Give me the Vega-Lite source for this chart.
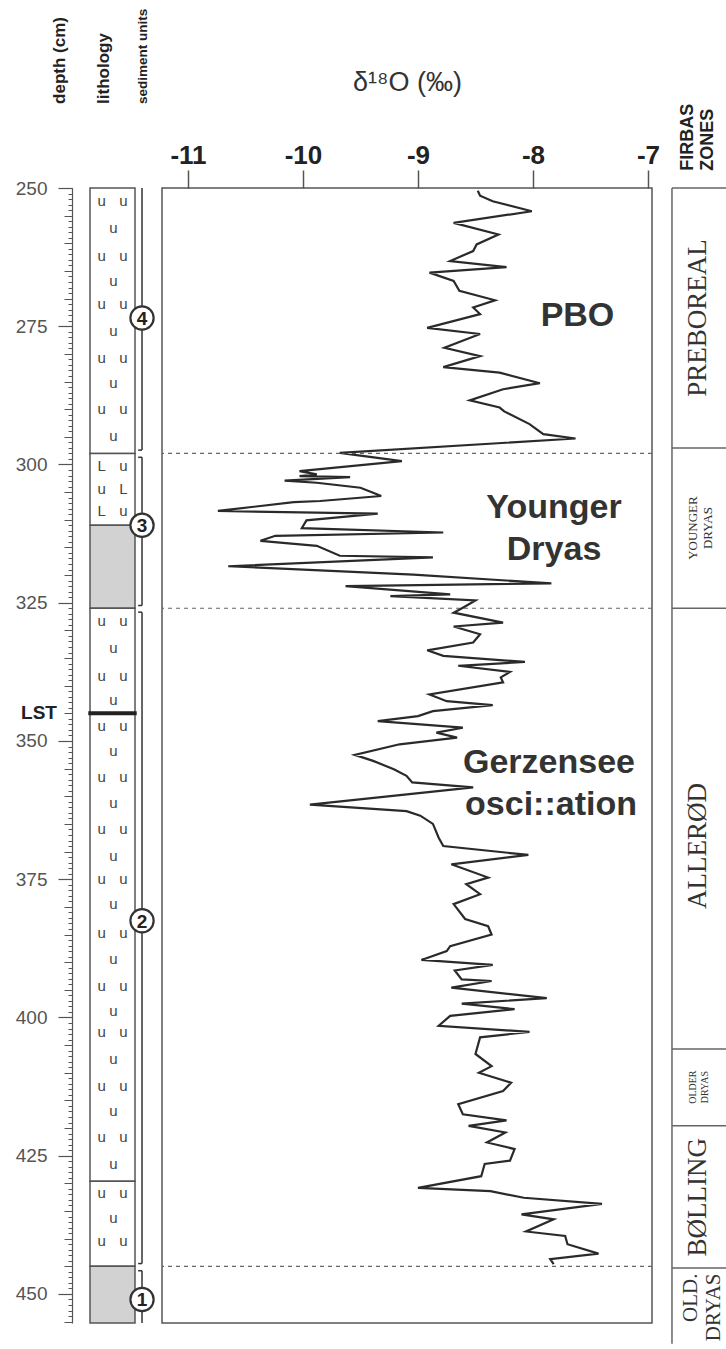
{
  "$schema": "https://vega.github.io/schema/vega-lite/v6.json",
  "padding": {"left": 15, "top": 8, "right": 0, "bottom": 0},
  "autosize": {"type": "pad"},
  "background": "white",
  "config": {"view": {"stroke": null}, "font": "Liberation Sans", "axis": {"grid": false}},
  "datasets": {
    "d18o": [
      {"depth": 250.5, "d18O": -8.48}, {"depth": 251.4, "d18O": -8.46}, {"depth": 252.4, "d18O": -8.35}, {"depth": 254.2, "d18O": -8.01},
      {"depth": 256.3, "d18O": -8.69}, {"depth": 258.4, "d18O": -8.30}, {"depth": 260.2, "d18O": -8.49}, {"depth": 261.4, "d18O": -8.52},
      {"depth": 263.2, "d18O": -8.72}, {"depth": 264.3, "d18O": -8.23}, {"depth": 265.3, "d18O": -8.90}, {"depth": 266.8, "d18O": -8.69},
      {"depth": 268.6, "d18O": -8.64}, {"depth": 270.3, "d18O": -8.33}, {"depth": 271.6, "d18O": -8.52}, {"depth": 272.8, "d18O": -8.46},
      {"depth": 275.3, "d18O": -8.92}, {"depth": 276.4, "d18O": -8.46}, {"depth": 278.9, "d18O": -8.77}, {"depth": 280.4, "d18O": -8.46},
      {"depth": 282.4, "d18O": -8.78}, {"depth": 283.4, "d18O": -8.29}, {"depth": 285.3, "d18O": -7.94}, {"depth": 286.4, "d18O": -8.26},
      {"depth": 288.4, "d18O": -8.55}, {"depth": 289.7, "d18O": -8.29}, {"depth": 290.4, "d18O": -8.25}, {"depth": 292.7, "d18O": -8.03},
      {"depth": 294.5, "d18O": -7.91}, {"depth": 295.3, "d18O": -7.63}, {"depth": 297.9, "d18O": -9.68}, {"depth": 299.4, "d18O": -9.14},
      {"depth": 301.2, "d18O": -10.03}, {"depth": 301.8, "d18O": -9.88}, {"depth": 302.1, "d18O": -10.03}, {"depth": 302.3, "d18O": -9.59},
      {"depth": 302.9, "d18O": -10.16}, {"depth": 303.3, "d18O": -9.88}, {"depth": 304.2, "d18O": -9.50}, {"depth": 305.1, "d18O": -9.39},
      {"depth": 305.7, "d18O": -9.32}, {"depth": 306.6, "d18O": -9.85}, {"depth": 306.8, "d18O": -10.08}, {"depth": 308.4, "d18O": -10.74},
      {"depth": 308.9, "d18O": -9.35}, {"depth": 310.1, "d18O": -9.97}, {"depth": 311.5, "d18O": -10.01}, {"depth": 312.3, "d18O": -8.78},
      {"depth": 312.9, "d18O": -10.24}, {"depth": 313.8, "d18O": -10.37}, {"depth": 314.7, "d18O": -9.88}, {"depth": 316.5, "d18O": -9.68},
      {"depth": 316.8, "d18O": -8.87}, {"depth": 318.4, "d18O": -10.65}, {"depth": 319.9, "d18O": -9.04}, {"depth": 321.5, "d18O": -7.84},
      {"depth": 322.0, "d18O": -9.63}, {"depth": 323.5, "d18O": -8.72}, {"depth": 323.8, "d18O": -9.24}, {"depth": 324.6, "d18O": -8.50},
      {"depth": 325.9, "d18O": -8.61}, {"depth": 326.8, "d18O": -8.69}, {"depth": 328.6, "d18O": -8.26}, {"depth": 329.3, "d18O": -8.69},
      {"depth": 330.7, "d18O": -8.46}, {"depth": 332.2, "d18O": -8.52}, {"depth": 333.6, "d18O": -8.92}, {"depth": 334.6, "d18O": -8.78},
      {"depth": 335.7, "d18O": -8.07}, {"depth": 336.4, "d18O": -8.65}, {"depth": 337.5, "d18O": -8.20}, {"depth": 338.5, "d18O": -8.28},
      {"depth": 339.4, "d18O": -8.26}, {"depth": 341.6, "d18O": -8.90}, {"depth": 342.8, "d18O": -8.75}, {"depth": 343.5, "d18O": -8.35},
      {"depth": 344.6, "d18O": -8.87}, {"depth": 345.5, "d18O": -9.00}, {"depth": 346.4, "d18O": -9.35}, {"depth": 347.6, "d18O": -8.61},
      {"depth": 348.5, "d18O": -8.84}, {"depth": 349.4, "d18O": -8.66}, {"depth": 350.6, "d18O": -9.16}, {"depth": 352.5, "d18O": -9.55},
      {"depth": 353.6, "d18O": -9.39}, {"depth": 355.1, "d18O": -9.21}, {"depth": 356.3, "d18O": -9.10}, {"depth": 357.5, "d18O": -9.05},
      {"depth": 358.4, "d18O": -8.52}, {"depth": 361.5, "d18O": -9.94}, {"depth": 362.7, "d18O": -9.10}, {"depth": 363.5, "d18O": -8.98},
      {"depth": 365.0, "d18O": -8.87}, {"depth": 367.5, "d18O": -8.82}, {"depth": 369.0, "d18O": -8.78}, {"depth": 370.6, "d18O": -8.04},
      {"depth": 372.3, "d18O": -8.71}, {"depth": 374.7, "d18O": -8.39}, {"depth": 375.9, "d18O": -8.58}, {"depth": 377.7, "d18O": -8.46},
      {"depth": 379.5, "d18O": -8.69}, {"depth": 382.2, "d18O": -8.59}, {"depth": 383.5, "d18O": -8.39}, {"depth": 385.0, "d18O": -8.36},
      {"depth": 387.1, "d18O": -8.72}, {"depth": 388.0, "d18O": -8.75}, {"depth": 389.6, "d18O": -8.97}, {"depth": 390.5, "d18O": -8.35},
      {"depth": 391.5, "d18O": -8.68}, {"depth": 393.1, "d18O": -8.62}, {"depth": 393.4, "d18O": -8.36}, {"depth": 394.6, "d18O": -8.71},
      {"depth": 396.5, "d18O": -7.88}, {"depth": 397.5, "d18O": -8.62}, {"depth": 398.5, "d18O": -8.16}, {"depth": 399.7, "d18O": -8.72},
      {"depth": 401.5, "d18O": -8.82}, {"depth": 402.6, "d18O": -8.03}, {"depth": 403.6, "d18O": -8.46}, {"depth": 406.6, "d18O": -8.50},
      {"depth": 408.8, "d18O": -8.36}, {"depth": 410.0, "d18O": -8.47}, {"depth": 411.8, "d18O": -8.19}, {"depth": 413.3, "d18O": -8.26},
      {"depth": 415.7, "d18O": -8.65}, {"depth": 417.5, "d18O": -8.61}, {"depth": 418.6, "d18O": -8.23}, {"depth": 419.6, "d18O": -8.56},
      {"depth": 420.8, "d18O": -8.24}, {"depth": 422.6, "d18O": -8.40}, {"depth": 423.8, "d18O": -8.16}, {"depth": 425.9, "d18O": -8.20},
      {"depth": 426.5, "d18O": -8.42}, {"depth": 428.7, "d18O": -8.45}, {"depth": 430.8, "d18O": -9.00}, {"depth": 431.4, "d18O": -8.37},
      {"depth": 432.6, "d18O": -8.08}, {"depth": 433.7, "d18O": -7.40}, {"depth": 435.6, "d18O": -8.10}, {"depth": 436.5, "d18O": -7.82},
      {"depth": 438.7, "d18O": -8.06}, {"depth": 439.5, "d18O": -7.72}, {"depth": 441.0, "d18O": -7.70}, {"depth": 442.7, "d18O": -7.43},
      {"depth": 443.7, "d18O": -7.85}, {"depth": 444.6, "d18O": -7.82}
    ],
    "lithology": [
      {"top": 250, "bottom": 298, "type": "patterned"},
      {"top": 298, "bottom": 311, "type": "patterned"},
      {"top": 311, "bottom": 326, "type": "shaded"},
      {"top": 326, "bottom": 429.6, "type": "patterned"},
      {"top": 429.6, "bottom": 445, "type": "patterned"},
      {"top": 445, "bottom": 455.25, "type": "shaded"}
    ],
    "symbols": [
      {"depth": 252.4, "symbol": "u", "slot": "left"}, {"depth": 252.4, "symbol": "u", "slot": "right"},
      {"depth": 257.2, "symbol": "u", "slot": "mid"},
      {"depth": 262.3, "symbol": "u", "slot": "left"}, {"depth": 262.3, "symbol": "u", "slot": "right"},
      {"depth": 266.8, "symbol": "u", "slot": "mid"},
      {"depth": 271.0, "symbol": "u", "slot": "left"}, {"depth": 271.0, "symbol": "u", "slot": "right"},
      {"depth": 275.9, "symbol": "u", "slot": "mid"},
      {"depth": 280.7, "symbol": "u", "slot": "left"}, {"depth": 280.7, "symbol": "u", "slot": "right"},
      {"depth": 285.2, "symbol": "u", "slot": "mid"},
      {"depth": 290.0, "symbol": "u", "slot": "left"}, {"depth": 290.0, "symbol": "u", "slot": "right"},
      {"depth": 294.8, "symbol": "u", "slot": "mid"},
      {"depth": 300.3, "symbol": "L", "slot": "left"}, {"depth": 300.3, "symbol": "u", "slot": "right"},
      {"depth": 304.4, "symbol": "u", "slot": "left"}, {"depth": 304.4, "symbol": "L", "slot": "right"},
      {"depth": 308.4, "symbol": "L", "slot": "left"}, {"depth": 308.4, "symbol": "u", "slot": "right"},
      {"depth": 328.3, "symbol": "u", "slot": "left"}, {"depth": 328.3, "symbol": "u", "slot": "right"},
      {"depth": 333.1, "symbol": "u", "slot": "mid"},
      {"depth": 338.2, "symbol": "u", "slot": "left"}, {"depth": 338.2, "symbol": "u", "slot": "right"},
      {"depth": 342.6, "symbol": "u", "slot": "mid"},
      {"depth": 347.2, "symbol": "u", "slot": "left"}, {"depth": 347.2, "symbol": "u", "slot": "right"},
      {"depth": 351.8, "symbol": "u", "slot": "mid"},
      {"depth": 356.6, "symbol": "u", "slot": "left"}, {"depth": 356.6, "symbol": "u", "slot": "right"},
      {"depth": 361.2, "symbol": "u", "slot": "mid"},
      {"depth": 365.9, "symbol": "u", "slot": "left"}, {"depth": 365.9, "symbol": "u", "slot": "right"},
      {"depth": 370.8, "symbol": "u", "slot": "mid"},
      {"depth": 375.0, "symbol": "u", "slot": "left"}, {"depth": 375.0, "symbol": "u", "slot": "right"},
      {"depth": 379.5, "symbol": "u", "slot": "mid"},
      {"depth": 384.7, "symbol": "u", "slot": "left"}, {"depth": 384.7, "symbol": "u", "slot": "right"},
      {"depth": 389.4, "symbol": "u", "slot": "mid"},
      {"depth": 394.3, "symbol": "u", "slot": "left"}, {"depth": 394.3, "symbol": "u", "slot": "right"},
      {"depth": 398.8, "symbol": "u", "slot": "mid"},
      {"depth": 402.7, "symbol": "u", "slot": "left"}, {"depth": 402.7, "symbol": "u", "slot": "right"},
      {"depth": 407.5, "symbol": "u", "slot": "mid"},
      {"depth": 412.4, "symbol": "u", "slot": "left"}, {"depth": 412.4, "symbol": "u", "slot": "right"},
      {"depth": 416.9, "symbol": "u", "slot": "mid"},
      {"depth": 421.7, "symbol": "u", "slot": "left"}, {"depth": 421.7, "symbol": "u", "slot": "right"},
      {"depth": 426.5, "symbol": "u", "slot": "mid"},
      {"depth": 431.7, "symbol": "u", "slot": "left"}, {"depth": 431.7, "symbol": "u", "slot": "right"},
      {"depth": 436.2, "symbol": "u", "slot": "mid"},
      {"depth": 440.4, "symbol": "u", "slot": "left"}, {"depth": 440.4, "symbol": "u", "slot": "right"}
    ],
    "markers": [{"depth": 345, "name": "LST"}],
    "units": [
      {"unit": "4", "top": 250, "bottom": 297.4, "label_depth": 273.5},
      {"unit": "3", "top": 298.7, "bottom": 325.5, "label_depth": 311},
      {"unit": "2", "top": 326.7, "bottom": 444.5, "label_depth": 382.5},
      {"unit": "1", "top": 445.8, "bottom": 455.25, "label_depth": 451}
    ],
    "boundaries": [{"depth": 298}, {"depth": 326}, {"depth": 445}],
    "annotations": [
      {"label": "PBO", "d18O": -7.613, "depth": 275.0},
      {"label": "Younger", "d18O": -7.817, "depth": 309.6},
      {"label": "Dryas", "d18O": -7.817, "depth": 317.2},
      {"label": "Gerzensee", "d18O": -7.861, "depth": 355.7},
      {"label": "osci::ation", "d18O": -7.843, "depth": 363.3}
    ],
    "zones": [
      {"zone": "PREBOREAL", "top": 250, "label_depth": 273.5},
      {"zone": "YOUNGER\nDRYAS", "top": 297, "label_depth": 311.5},
      {"zone": "ALLERØD", "top": 326, "label_depth": 369},
      {"zone": "OLDER\nDRYAS", "top": 405.7, "label_depth": 412.6},
      {"zone": "BØLLING", "top": 419.6, "label_depth": 432.5},
      {"zone": "OLD.\nDRYAS", "top": 445.3, "label_depth": 446.3}
    ]
  },
  "spacing": 0,
  "bounds": "flush",
  "hconcat": [
    {
      "width": 90,
      "height": 1135,
      "resolve": {"axis": {"y": "independent"}},
      "layer": [
        {
          "data": {"name": "lithology"},
          "mark": {"type": "rect", "stroke": "#555", "strokeWidth": 1.5},
          "encoding": {
            "x": {"datum": 0.2, "type": "quantitative", "scale": {"domain": [0, 1], "nice": false, "zero": false}, "axis": null},
            "x2": {"datum": 0.7},
            "y": {"field": "top", "type": "quantitative", "scale": {"domain": [250, 455.25], "nice": false, "zero": false, "reverse": true},
              "axis": {"orient": "left", "offset": 0, "values": [250, 275, 300, 325, 350, 375, 400, 425, 450], "tickSize": 14, "tickColor": "#555", "tickWidth": 1.2, "domainColor": "#555", "domainWidth": 1.2, "labelFontSize": 19, "labelColor": "#555", "labelPadding": 11, "title": null, "grid": false}},
            "y2": {"field": "bottom"},
            "fill": {"field": "type", "type": "nominal", "scale": {"domain": ["patterned", "shaded"], "range": ["#ffffff", "#d2d2d2"]}, "legend": null}
          }
        },
        {
          "data": {"name": "symbols"},
          "transform": [{"filter": "datum.slot === 'left'"}],
          "mark": {"type": "text", "fontSize": 15, "color": "#444", "baseline": "middle", "align": "center"},
          "encoding": {
            "x": {"datum": 0.33, "type": "quantitative", "axis": null},
            "y": {"field": "depth", "type": "quantitative", "axis": {"orient": "left", "offset": 0, "tickCount": 205, "labels": false, "domain": false, "tickSize": 4, "tickColor": "#555", "title": null, "grid": false}},
            "text": {"field": "symbol"}
          }
        },
        {
          "data": {"name": "symbols"},
          "transform": [{"filter": "datum.slot === 'mid'"}],
          "mark": {"type": "text", "fontSize": 15, "color": "#444", "baseline": "middle", "align": "center"},
          "encoding": {
            "x": {"datum": 0.459, "type": "quantitative", "axis": null},
            "y": {"field": "depth", "type": "quantitative", "axis": {"orient": "left", "offset": 0, "tickCount": 41, "labels": false, "domain": false, "tickSize": 8, "tickColor": "#555", "title": null, "grid": false}},
            "text": {"field": "symbol"}
          }
        },
        {
          "data": {"name": "symbols"},
          "transform": [{"filter": "datum.slot === 'right'"}],
          "mark": {"type": "text", "fontSize": 15, "color": "#444", "baseline": "middle", "align": "center"},
          "encoding": {
            "x": {"datum": 0.57, "type": "quantitative", "axis": null},
            "y": {"field": "depth", "type": "quantitative", "axis": null},
            "text": {"field": "symbol"}
          }
        },
        {
          "data": {"name": "markers"},
          "mark": {"type": "rule", "stroke": "#222", "strokeWidth": 4},
          "encoding": {
            "x": {"datum": 0.181, "type": "quantitative", "axis": null},
            "x2": {"datum": 0.719},
            "y": {"field": "depth", "type": "quantitative", "axis": null}
          }
        },
        {
          "data": {"name": "markers"},
          "mark": {"type": "text", "fontSize": 19, "fontWeight": "bold", "color": "#222", "align": "right", "baseline": "middle"},
          "encoding": {
            "x": {"datum": -0.167, "type": "quantitative", "axis": null},
            "y": {"field": "depth", "type": "quantitative", "axis": null},
            "text": {"field": "name"}
          }
        },
        {
          "data": {"name": "units"},
          "mark": {"type": "rule", "stroke": "#333", "strokeWidth": 1.5},
          "encoding": {
            "x": {"datum": 0.778, "type": "quantitative", "axis": null},
            "y": {"field": "top", "type": "quantitative", "axis": null},
            "y2": {"field": "bottom"}
          }
        },
        {
          "data": {"name": "units"},
          "transform": [{"filter": "datum.top > 250"}],
          "mark": {"type": "rule", "stroke": "#333", "strokeWidth": 1.5},
          "encoding": {
            "x": {"datum": 0.735, "type": "quantitative", "axis": null},
            "x2": {"datum": 0.778},
            "y": {"field": "top", "type": "quantitative", "axis": null}
          }
        },
        {
          "data": {"name": "units"},
          "transform": [{"filter": "datum.bottom < 455"}],
          "mark": {"type": "rule", "stroke": "#333", "strokeWidth": 1.5},
          "encoding": {
            "x": {"datum": 0.735, "type": "quantitative", "axis": null},
            "x2": {"datum": 0.778},
            "y": {"field": "bottom", "type": "quantitative", "axis": null}
          }
        },
        {
          "data": {"name": "units"},
          "mark": {"type": "point", "shape": "circle", "filled": true, "fill": "white", "stroke": "#333", "strokeWidth": 2.2, "size": 540, "opacity": 1, "fillOpacity": 1, "strokeOpacity": 1},
          "encoding": {
            "x": {"datum": 0.778, "type": "quantitative", "axis": null},
            "y": {"field": "label_depth", "type": "quantitative", "axis": null}
          }
        },
        {
          "data": {"name": "units"},
          "mark": {"type": "text", "fontSize": 19, "fontWeight": "bold", "color": "#222", "align": "center", "baseline": "middle", "dy": 1},
          "encoding": {
            "x": {"datum": 0.778, "type": "quantitative", "axis": null},
            "y": {"field": "label_depth", "type": "quantitative", "axis": null},
            "text": {"field": "unit"}
          }
        },
        {
          "data": {"values": [{"label": "depth (cm)"}]},
          "mark": {"type": "text", "fontSize": 17, "fontWeight": "bold", "color": "#222", "angle": 270, "align": "left", "baseline": "middle"},
          "encoding": {
            "x": {"datum": -0.133, "type": "quantitative", "axis": null},
            "y": {"datum": 234.8, "type": "quantitative", "axis": null},
            "text": {"field": "label"}
          }
        },
        {
          "data": {"values": [{"label": "lithology"}]},
          "mark": {"type": "text", "fontSize": 17, "fontWeight": "bold", "color": "#222", "angle": 270, "align": "left", "baseline": "middle"},
          "encoding": {
            "x": {"datum": 0.356, "type": "quantitative", "axis": null},
            "y": {"datum": 234.8, "type": "quantitative", "axis": null},
            "text": {"field": "label"}
          }
        },
        {
          "data": {"values": [{"label": "sediment units"}]},
          "mark": {"type": "text", "fontSize": 13.5, "fontWeight": "bold", "color": "#222", "angle": 270, "align": "left", "baseline": "middle"},
          "encoding": {
            "x": {"datum": 0.789, "type": "quantitative", "axis": null},
            "y": {"datum": 234.8, "type": "quantitative", "axis": null},
            "text": {"field": "label"}
          }
        }
      ]
    },
    {
      "width": 490,
      "height": 1135,
      "view": {"stroke": "#555", "strokeWidth": 1.5},
      "layer": [
        {
          "data": {"name": "boundaries"},
          "mark": {"type": "rule", "stroke": "#666", "strokeWidth": 1.2, "strokeDash": [4, 4]},
          "encoding": {
            "y": {"field": "depth", "type": "quantitative", "scale": {"domain": [250, 455.25], "nice": false, "zero": false, "reverse": true}, "axis": null}
          }
        },
        {
          "data": {"name": "d18o"},
          "mark": {"type": "line", "stroke": "#2a2a2a", "strokeWidth": 2.2, "strokeJoin": "miter"},
          "encoding": {
            "x": {"field": "d18O", "type": "quantitative", "scale": {"domain": [-11.226, -6.965], "nice": false, "zero": false},
              "axis": {"orient": "top", "values": [-11, -10, -9, -8, -7], "tickSize": 18, "tickColor": "#555", "tickWidth": 1.5, "domain": false, "labelExpr": "'-' + abs(datum.value)", "labelFontWeight": "bold", "labelFontSize": 26, "labelColor": "#222", "labelPadding": 2, "labelFlush": false, "labelOverlap": false, "title": "δ¹⁸O (‰)", "titleFontSize": 27, "titleFontWeight": "normal", "titleColor": "#333", "titlePadding": 46, "grid": false}},
            "y": {"field": "depth", "type": "quantitative", "axis": null},
            "order": {"field": "depth", "type": "quantitative"}
          }
        },
        {
          "data": {"name": "annotations"},
          "mark": {"type": "text", "fontSize": 34, "fontWeight": "bold", "color": "#333", "align": "center", "baseline": "alphabetic"},
          "encoding": {
            "x": {"field": "d18O", "type": "quantitative"},
            "y": {"field": "depth", "type": "quantitative", "axis": null},
            "text": {"field": "label"}
          }
        }
      ]
    },
    {
      "width": 74,
      "height": 1135,
      "layer": [
        {
          "data": {"name": "zones"},
          "mark": {"type": "rule", "stroke": "#666", "strokeWidth": 1.5},
          "encoding": {
            "x": {"datum": 0.27, "type": "quantitative", "scale": {"domain": [0, 1], "nice": false, "zero": false}, "axis": null},
            "x2": {"datum": 1},
            "y": {"field": "top", "type": "quantitative", "scale": {"domain": [250, 455.25], "nice": false, "zero": false, "reverse": true}, "axis": null}
          }
        },
        {
          "data": {"values": [{"from": 250, "to": 459}]},
          "mark": {"type": "rule", "stroke": "#666", "strokeWidth": 1.5},
          "encoding": {
            "x": {"datum": 0.27, "type": "quantitative", "axis": null},
            "y": {"field": "from", "type": "quantitative", "axis": null},
            "y2": {"field": "to"}
          }
        },
        {
          "data": {"name": "zones"},
          "transform": [{"filter": "indexof(datum.zone, 'DRYAS') < 0"}],
          "mark": {"type": "text", "font": "Liberation Serif", "fontSize": 27, "angle": 270, "align": "center", "baseline": "middle", "color": "#333"},
          "encoding": {
            "x": {"datum": 0.62, "type": "quantitative", "axis": null},
            "y": {"field": "label_depth", "type": "quantitative", "axis": null},
            "text": {"field": "zone"}
          }
        },
        {
          "data": {"name": "zones"},
          "transform": [{"filter": "indexof(datum.zone, 'YOUNGER') === 0"}],
          "mark": {"type": "text", "font": "Liberation Serif", "fontSize": 13, "angle": 270, "align": "center", "baseline": "middle", "lineBreak": "\n", "color": "#333"},
          "encoding": {
            "x": {"datum": 0.554, "type": "quantitative", "axis": null},
            "y": {"field": "label_depth", "type": "quantitative", "axis": null},
            "text": {"field": "zone"}
          }
        },
        {
          "data": {"name": "zones"},
          "transform": [{"filter": "indexof(datum.zone, 'OLDER') === 0"}],
          "mark": {"type": "text", "font": "Liberation Serif", "fontSize": 10, "angle": 270, "align": "center", "baseline": "middle", "lineBreak": "\n", "color": "#333"},
          "encoding": {
            "x": {"datum": 0.56, "type": "quantitative", "axis": null},
            "y": {"field": "label_depth", "type": "quantitative", "axis": null},
            "text": {"field": "zone"}
          }
        },
        {
          "data": {"name": "zones"},
          "transform": [{"filter": "indexof(datum.zone, 'OLD.') === 0"}],
          "mark": {"type": "text", "font": "Liberation Serif", "fontSize": 21, "angle": 270, "align": "right", "baseline": "middle", "lineBreak": "\n", "color": "#333"},
          "encoding": {
            "x": {"datum": 0.527, "type": "quantitative", "axis": null},
            "y": {"field": "label_depth", "type": "quantitative", "axis": null},
            "text": {"field": "zone"}
          }
        },
        {
          "data": {"values": [{"label": "FIRBAS\nZONES"}]},
          "mark": {"type": "text", "fontSize": 18, "fontWeight": "bold", "color": "#222", "angle": 270, "align": "left", "baseline": "middle", "lineBreak": "\n"},
          "encoding": {
            "x": {"datum": 0.486, "type": "quantitative", "axis": null},
            "y": {"datum": 246.9, "type": "quantitative", "axis": null},
            "text": {"field": "label"}
          }
        }
      ]
    }
  ]
}
